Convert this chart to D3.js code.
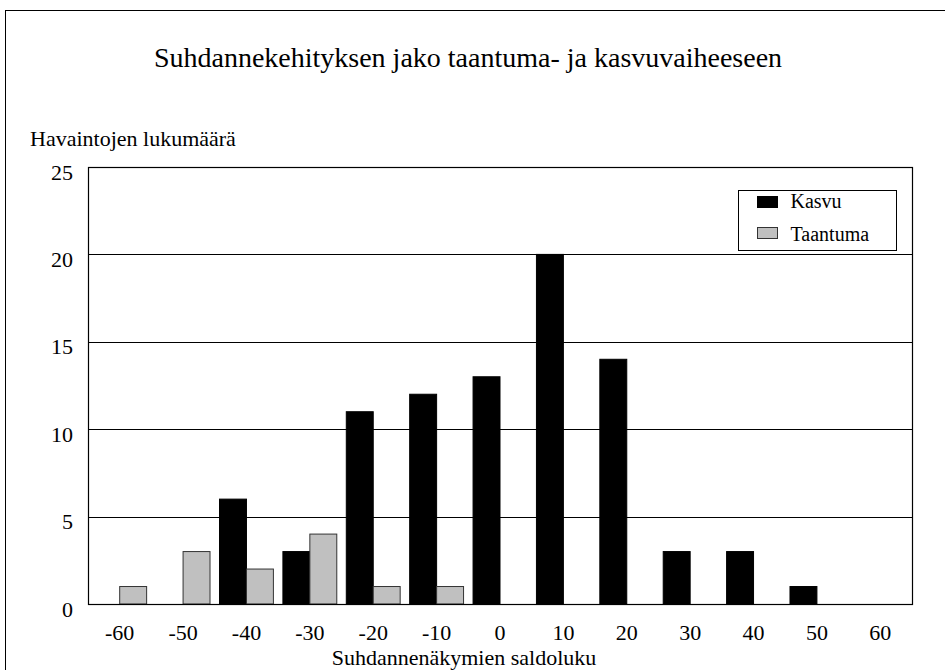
<!DOCTYPE html>
<html>
<head>
<meta charset="utf-8">
<script src="https://cdn.jsdelivr.net/npm/d3@7"></script>
<style>
  body { margin: 0; background: #fff; }
  svg { display: block; font-family: "Liberation Serif", "Times New Roman", serif; }
</style>
</head>
<body>
<div class="canvas"></div>
<script>
const categories = [-60, -50, -40, -30, -20, -10, 0, 10, 20, 30, 40, 50, 60];
const kasvu = [0, 0, 6, 3, 11, 12, 13, 20, 14, 3, 3, 1, 0];
const taantuma = [1, 3, 2, 4, 1, 1, 0, 0, 0, 0, 0, 0, 0];
const yTicks = [0, 5, 10, 15, 20, 25];
const seriesNames = ["Kasvu", "Taantuma"];
const colors = ["#000000", "#c0c0c0"];

const serif = "Liberation Serif, Times New Roman, serif";
const W = 945, H = 670;
const margin = { top: 167, right: 33, bottom: 66, left: 88 };
const width = W - margin.left - margin.right;
const height = H - margin.top - margin.bottom;

const svg = d3.select(".canvas").append("svg").attr("width", W).attr("height", H)
  .attr("font-family", serif);

// outer frame
svg.append("rect")
  .attr("x", 5.5).attr("y", 10.5)
  .attr("width", W + 10).attr("height", H + 10)
  .attr("fill", "none").attr("stroke", "#000").attr("stroke-width", 1);

svg.append("text")
  .attr("x", 468).attr("y", 67)
  .attr("text-anchor", "middle")
  .attr("font-size", 28)
  .text("Suhdannekehityksen jako taantuma- ja kasvuvaiheeseen");

svg.append("text")
  .attr("x", 30).attr("y", 146)
  .attr("font-size", 22)
  .text("Havaintojen lukumäärä");

const chart = svg.append("g").attr("transform", `translate(${margin.left},${margin.top})`);

const x = d3.scaleBand().domain(categories).range([0, width]).paddingInner(0.15).paddingOuter(0.075);
const x1 = d3.scaleBand().domain(seriesNames).range([0, x.bandwidth()]);
const y = d3.scaleLinear().domain([0, 25]).range([height, 0]);

// gridlines
chart.append("g")
  .selectAll("line")
  .data(yTicks.slice(1))
  .join("line")
  .attr("x1", 0).attr("x2", width)
  .attr("y1", (d) => Math.round(y(d)) + 0.5).attr("y2", (d) => Math.round(y(d)) + 0.5)
  .attr("stroke", "#000").attr("stroke-width", 1);

const rows = categories.map((c, i) => ({ cat: c, vals: [kasvu[i], taantuma[i]] }));

chart.append("g")
  .selectAll("g")
  .data(rows)
  .join("g")
  .attr("transform", (d) => `translate(${x(d.cat)},0)`)
  .selectAll("rect")
  .data((d) => d.vals.map((v, j) => ({ name: seriesNames[j], v, j })).filter((e) => e.v > 0))
  .join("rect")
  .attr("x", (d) => x1(d.name))
  .attr("y", (d) => y(d.v))
  .attr("width", x1.bandwidth())
  .attr("height", (d) => y(0) - y(d.v))
  .attr("fill", (d) => colors[d.j])
  .attr("stroke", (d) => (d.j === 1 ? "#333" : "#000"))
  .attr("stroke-width", 1);

// plot border
chart.append("rect")
  .attr("x", 0.5).attr("y", 0.5)
  .attr("width", width).attr("height", height)
  .attr("fill", "none").attr("stroke", "#000").attr("stroke-width", 1.2);

const yAxis = d3.axisLeft(y).tickValues(yTicks).tickSize(0).tickPadding(15);
chart.append("g").call(yAxis)
  .call((g) => g.select(".domain").remove())
  .selectAll("text")
  .attr("font-family", serif)
  .attr("font-size", 22)
  .attr("dy", "0.55em")
  .attr("fill", "#000");

const xAxis = d3.axisBottom(x).tickSize(0).tickPadding(20);
chart.append("g").attr("transform", `translate(0,${height})`).call(xAxis)
  .call((g) => g.select(".domain").remove())
  .selectAll("text")
  .attr("font-family", serif)
  .attr("font-size", 22)
  .attr("fill", "#000");

svg.append("text")
  .attr("x", 464).attr("y", 665)
  .attr("text-anchor", "middle")
  .attr("font-size", 22)
  .text("Suhdannenäkymien saldoluku");

// legend
const legend = svg.append("g").attr("transform", "translate(738.5,190.5)");
legend.append("rect").attr("width", 158).attr("height", 60)
  .attr("fill", "#fff").attr("stroke", "#000");
seriesNames.forEach((name, i) => {
  legend.append("rect")
    .attr("x", 19).attr("y", 6 + i * 31)
    .attr("width", 20).attr("height", 11)
    .attr("fill", colors[i]).attr("stroke", i === 1 ? "#333" : "#000");
  legend.append("text")
    .attr("x", 52).attr("y", 17 + i * 33)
    .attr("font-size", 20)
    .text(name);
});
</script>
</body>
</html>
